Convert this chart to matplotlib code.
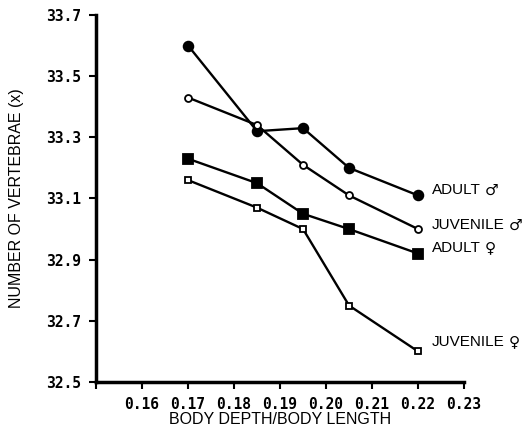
import matplotlib
matplotlib.use('Agg')
import matplotlib.pyplot as plt

# body depth / body length classes
ratio = [0.17, 0.185, 0.195, 0.205, 0.22]

# mean number of vertebrae per group
adult_male = [33.60, 33.32, 33.33, 33.20, 33.11]
juvenile_male = [33.43, 33.34, 33.21, 33.11, 33.00]
adult_female = [33.23, 33.15, 33.05, 33.00, 32.92]
juvenile_female = [33.16, 33.07, 33.00, 32.75, 32.60]

names = ['ADULT', 'JUVENILE', 'ADULT', 'JUVENILE']
sexes = ['\u2642', '\u2642', '\u2640', '\u2640']
xticks = [0.15, 0.16, 0.17, 0.18, 0.19, 0.20, 0.21, 0.22, 0.23]
xticklabels = ['', '0.16', '0.17', '0.18', '0.19', '0.20', '0.21', '0.22', '0.23']
yticks = [32.5, 32.7, 32.9, 33.1, 33.3, 33.5, 33.7]

label_font = ['Liberation Sans', 'DejaVu Sans']
tick_font = ['DejaVu Sans Mono']

fig = plt.figure(figsize=(5.22, 4.28), dpi=100)
ax = fig.add_axes([0.184, 0.1075, 0.705, 0.8575])

styles = [
    dict(marker='o', ms=7, mfc='black'),
    dict(marker='o', ms=5, mfc='white'),
    dict(marker='s', ms=7, mfc='black'),
    dict(marker='s', ms=5, mfc='white'),
]
# vertical nudge of each end label (points)
nudges = [4, 3, 4, 7]
series = [adult_male, juvenile_male, adult_female, juvenile_female]
for vals, st, name, sex, dy in zip(series, styles, names, sexes, nudges):
    ax.plot(ratio, vals, color='black', lw=1.7, mec='black', mew=1.3,
            clip_on=False, **st)
    txt = ax.annotate(name, (ratio[-1], vals[-1]), xytext=(10, dy),
                      textcoords='offset points', va='center', ha='left',
                      fontsize=11, family=label_font)
    ax.annotate(sex, xy=(1, 0.5), xycoords=txt, xytext=(3, 0),
                textcoords='offset points', va='center', ha='left',
                fontsize=11, family=['DejaVu Sans'])

ax.set_xlim(0.15, 0.23)
ax.set_ylim(32.5, 33.7)
ax.set_xticks(xticks)
ax.set_xticklabels(xticklabels)
ax.set_yticks(yticks)
ax.set_yticklabels(['%.1f' % v for v in yticks])
for lab in ax.get_xticklabels() + ax.get_yticklabels():
    lab.set_family(tick_font)
    lab.set_fontweight('bold')
    lab.set_fontsize(10.5)

ax.spines['top'].set_visible(False)
ax.spines['right'].set_visible(False)
ax.spines['left'].set_linewidth(2.5)
ax.spines['bottom'].set_linewidth(2.5)
ax.tick_params(direction='out', length=5, width=1.5, pad=6)

ax.set_xlabel('BODY DEPTH/BODY LENGTH', fontsize=11.5, family=label_font, labelpad=0)
ax.set_ylabel('NUMBER OF VERTEBRAE (x)', fontsize=11.5, family=label_font, labelpad=16)

fig.savefig('out.png', dpi=100)
